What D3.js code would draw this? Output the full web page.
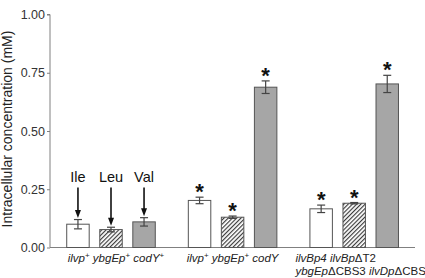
<!DOCTYPE html>
<html>
<head>
<meta charset="utf-8">
<script src="https://cdn.jsdelivr.net/npm/d3@7"></script>
<style>
  body { margin: 0; background: #fff; }
  text { font-family: "Liberation Sans", Arial, sans-serif; }
</style>
</head>
<body>
<svg id="chart" width="425" height="278"></svg>
<script>
// strains (groups) and amino acids (series)
const groups = ["wt", "codY", "cbs"];
const aminoAcids = ["Ile", "Leu", "Val"];

// mean intracellular concentration (mM), one array per amino acid
const ileValues = [0.10, 0.202, 0.166];
const leuValues = [0.077, 0.13, 0.19];
const valValues = [0.11, 0.688, 0.702];
// standard errors
const ileErrors = [0.02, 0.014, 0.016];
const leuErrors = [0.01, 0.005, 0.003];
const valErrors = [0.018, 0.027, 0.037];
// significance marks
const ileStar = [false, true, true];
const leuStar = [false, true, true];
const valStar = [false, true, true];

const yTicks = [0, 0.25, 0.5, 0.75, 1.0];

const width = 425, height = 278;
const margin = {top: 14.5, right: 10, bottom: 30.5, left: 50};

const svg = d3.select("#chart");

// hatch pattern for Leu
const defs = svg.append("defs");
defs.append("pattern")
    .attr("id", "hatch")
    .attr("patternUnits", "userSpaceOnUse")
    .attr("width", 3)
    .attr("height", 3)
    .attr("patternTransform", "rotate(45)")
    .call(p => {
        p.append("rect").attr("width", 3).attr("height", 3).attr("fill", "#fff");
        p.append("line").attr("x1", 0.5).attr("y1", 0).attr("x2", 0.5).attr("y2", 3)
            .attr("stroke", "#3a3a3a").attr("stroke-width", 1.3);
    });

const fills = {Ile: "#fff", Leu: "url(#hatch)", Val: "#a6a6a6"};

const y = d3.scaleLinear()
    .domain([0, 1])
    .range([height - margin.bottom, margin.top]);

const x0 = d3.scaleBand()
    .domain(groups)
    .range([50.2, 415])
    .padding(0);

const x1 = d3.scaleBand()
    .domain(aminoAcids)
    .range([0, x0.bandwidth()])
    .paddingInner(0.32)
    .paddingOuter(0.5);

// build rows from the arrays
const series = {
    Ile: {v: ileValues, e: ileErrors, s: ileStar},
    Leu: {v: leuValues, e: leuErrors, s: leuStar},
    Val: {v: valValues, e: valErrors, s: valStar}
};
const rows = [];
groups.forEach((g, i) => {
    aminoAcids.forEach(a => {
        rows.push({group: g, aa: a, value: series[a].v[i], err: series[a].e[i], star: series[a].s[i], gi: i});
    });
});

// y axis
const yAxis = svg.append("g")
    .attr("transform", "translate(" + margin.left + ",0)")
    .call(d3.axisLeft(y).tickValues(yTicks).tickFormat(d3.format(".2f")).tickSize(3).tickPadding(2));
yAxis.select(".domain").attr("stroke", "#808080").attr("d", "M-3," + y(1) + "H0V" + y(0));
yAxis.selectAll(".tick line").attr("stroke", "#808080");
yAxis.selectAll(".tick text")
    .attr("fill", "#333")
    .style("font-size", "12.5px")
    .style("font-family", "'Liberation Sans', Arial, sans-serif");

// baseline
svg.append("line")
    .attr("x1", margin.left).attr("x2", 415)
    .attr("y1", y(0)).attr("y2", y(0))
    .attr("stroke", "#808080").attr("stroke-width", 1.2);

svg.append("text")
    .attr("transform", "translate(12," + ((y(0) + y(1)) / 2 - 2) + ") rotate(-90)")
    .attr("text-anchor", "middle")
    .attr("fill", "#222")
    .style("font-size", "14px")
    .text("Intracellular concentration (mM)");

const bx = d => x0(d.group) + x1(d.aa);
const bw = x1.bandwidth();

// bars
svg.selectAll(".bar")
    .data(rows)
    .enter().append("rect")
    .attr("class", "bar")
    .attr("x", bx)
    .attr("y", d => y(d.value))
    .attr("width", bw)
    .attr("height", d => y(0) - y(d.value))
    .attr("fill", d => fills[d.aa])
    .attr("stroke", "#555")
    .attr("stroke-width", 1);

// error bars
const eb = svg.selectAll(".err")
    .data(rows)
    .enter().append("g")
    .attr("class", "err")
    .attr("stroke", "#444")
    .attr("stroke-width", 1.2);
eb.append("line")
    .attr("x1", d => bx(d) + bw / 2).attr("x2", d => bx(d) + bw / 2)
    .attr("y1", d => y(d.value - d.err)).attr("y2", d => y(d.value + d.err));
eb.append("line")
    .attr("x1", d => bx(d) + bw / 2 - 4).attr("x2", d => bx(d) + bw / 2 + 4)
    .attr("y1", d => y(d.value + d.err)).attr("y2", d => y(d.value + d.err));
eb.append("line")
    .attr("x1", d => bx(d) + bw / 2 - 4).attr("x2", d => bx(d) + bw / 2 + 4)
    .attr("y1", d => y(d.value - d.err)).attr("y2", d => y(d.value - d.err));

// asterisks
svg.selectAll(".star")
    .data(rows.filter(d => d.star))
    .enter().append("text")
    .attr("class", "star")
    .attr("x", d => bx(d) + bw / 2)
    .attr("y", d => y(d.value + d.err) + 2)
    .attr("text-anchor", "middle")
    .attr("fill", "#111")
    .style("font-size", "22px")
    .style("font-weight", "bold")
    .text("*");

// amino acid labels with arrows over the first group
const first = rows.filter(d => d.gi === 0);
svg.selectAll(".aalabel")
    .data(first)
    .enter().append("text")
    .attr("class", "aalabel")
    .attr("x", d => bx(d) + bw / 2)
    .attr("y", 182)
    .attr("text-anchor", "middle")
    .attr("fill", "#111")
    .style("font-size", "14.5px")
    .text(d => d.aa);
svg.selectAll(".arrow")
    .data(first)
    .enter().append("line")
    .attr("x1", d => bx(d) + bw / 2).attr("x2", d => bx(d) + bw / 2)
    .attr("y1", 187.5)
    .attr("y2", d => y(d.value + d.err) - 8)
    .attr("stroke", "#111").attr("stroke-width", 1.6);
svg.selectAll(".head")
    .data(first)
    .enter().append("path")
    .attr("class", "head")
    .attr("d", d => {
        const cx = bx(d) + bw / 2, t = y(d.value + d.err) - 1.5;
        return "M" + (cx - 3) + "," + (t - 8) + "L" + (cx + 3) + "," + (t - 8) + "L" + cx + "," + t + "Z";
    })
    .attr("fill", "#111");

// strain labels: [text, style] pieces, i = italic, n = upright, sup = superscript
const labelLines = [
    [[["ilvp", "i"], ["+", "sup"], [" ybgEp", "i"], ["+", "sup"], [" codY", "i"], ["+", "sup"]]],
    [[["ilvp", "i"], ["+", "sup"], [" ybgEp", "i"], ["+", "sup"], [" codY", "i"]]],
    [[["ilvBp4 ilvBp", "i"], ["\u0394T2", "n"]],
     [["ybgEp", "i"], ["\u0394CBS3 ", "n"], ["ilvDp", "i"], ["\u0394CBS", "n"]]]
];
const labelAnchor = ["middle", "middle", "start"];
const labelX = [x0("wt") + x0.bandwidth() / 2 + 5, x0("codY") + x0.bandwidth() / 2, x0("cbs") + 2];

groups.forEach((g, gi) => {
    labelLines[gi].forEach((line, li) => {
        const t = svg.append("text")
            .attr("x", labelX[gi])
            .attr("y", 261.5 + li * 13)
            .attr("text-anchor", labelAnchor[gi])
            .attr("fill", "#222")
            .style("font-size", "11.5px");
        let raised = false;
        line.forEach(([s, kind]) => {
            const ts = t.append("tspan").text(s);
            if (kind === "i") ts.style("font-style", "italic");
            if (kind === "sup") {
                ts.style("font-size", "8px").attr("dy", raised ? 0 : -4);
                raised = true;
            } else if (raised) {
                ts.attr("dy", 4);
                raised = false;
            }
        });
    });
});
</script>
</body>
</html>
